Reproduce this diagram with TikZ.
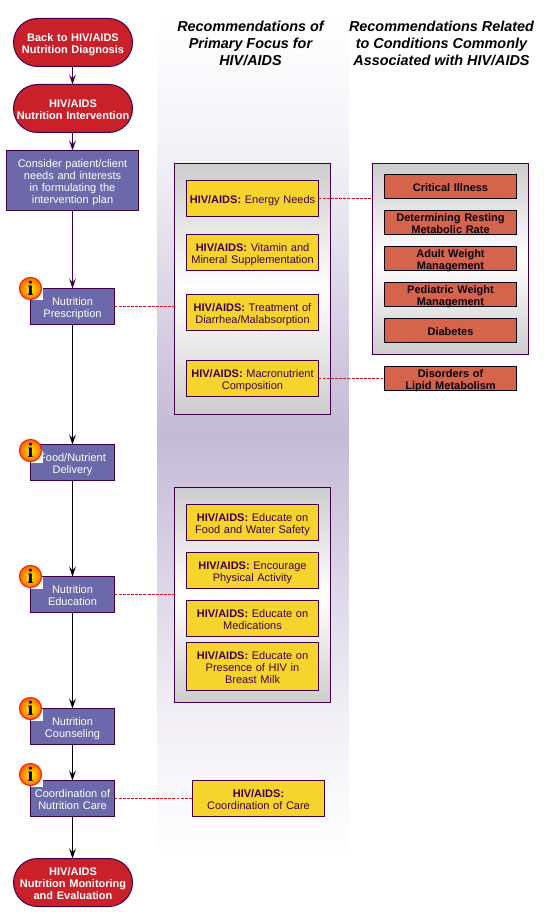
\documentclass[tikz,border=0pt]{standalone}
\usepackage{fontspec}
\setmainfont{Liberation Sans}
\newfontfamily\iconfont{Liberation Serif}
\usetikzlibrary{arrows.meta}
\definecolor{edge}{HTML}{400048}
\definecolor{redfill}{HTML}{C9202A}
\definecolor{bluefill}{HTML}{6B69A9}
\definecolor{yellowfill}{HTML}{F5D52B}
\definecolor{orangefill}{HTML}{D5644C}
\definecolor{bandtop}{HTML}{F3F2F7}
\definecolor{bandmid}{HTML}{C4BAD6}
\definecolor{bandlow}{HTML}{F2F0F6}
\definecolor{boxgray}{HTML}{CDCDCD}
\definecolor{dashred}{HTML}{D0182A}
\newcommand{\hv}{\textbf{HIV/AIDS:}}
\tikzset{
  x=0.75pt,y=-0.75pt,
  every node/.style={inner sep=0pt,outer sep=0pt,align=center,font=\fontsize{8.25pt}{9pt}\selectfont},
  base/.style={draw=edge,line width=0.75pt,text width=#1*0.75pt,inner ysep=-2.5pt,
    execute at begin node={\rule{0pt}{9.5pt}},execute at end node={\rule[-2pt]{0pt}{0pt}}},
  pill/.style={base=119,minimum width=119*0.75pt,minimum height=48*0.75pt,fill=redfill,rounded corners=18pt,text=white,font=\fontsize{8.25pt}{9pt}\selectfont\bfseries},
  bluebox/.style={base=84,minimum width=84*0.75pt,minimum height=36*0.75pt,fill=bluefill,text=white},
  yellowbox/.style={base=132,minimum width=132*0.75pt,minimum height=#1*0.75pt,fill=yellowfill,text=edge},
  yellowbox/.default=36,
  orangebox/.style={base=132,minimum width=132*0.75pt,minimum height=24*0.75pt,fill=orangefill,draw=black!80!edge,text=black!85!edge,font=\fontsize{8.25pt}{9pt}\selectfont\bfseries},
  grouper/.style={draw=edge,line width=0.75pt,minimum width=156*0.75pt,minimum height=#1*0.75pt,top color=boxgray,bottom color=boxgray,middle color=white},
  infoicon/.style={circle,minimum size=22*0.75pt,draw=red!75!orange,line width=0.9pt,inner color=yellow!85!orange,outer color=orange!85!red,text=black,font=\fontsize{15.5pt}{15.5pt}\selectfont\bfseries\iconfont},
  flow/.style={draw=#1,line width=0.75pt,-{Stealth[length=7.5pt,width=5pt,inset=3pt]}},
  flow/.default=edge,
  link/.style={draw=dashred,line width=0.6pt,dash pattern=on 2.2pt off 0.9pt},
  heading/.style={font=\fontsize{10.8pt}{12.9pt}\selectfont\bfseries\itshape,text=black}
}
\begin{document}
\begin{tikzpicture}
\useasboundingbox (-0.5,-0.5) rectangle (545.5,911.5);
% background band
\shade[top color=white,bottom color=bandtop] (157,14) rectangle (348,150);
\shade[top color=bandtop,bottom color=bandmid] (157,150) rectangle (348,432);
\shade[top color=bandmid,bottom color=bandlow] (157,432) rectangle (348,720);
\shade[top color=bandlow,bottom color=white] (157,720) rectangle (348,860);
% headings
\node[heading] (h1) at (250,43) {Recommendations of\\Primary Focus for\\HIV/AIDS};
\node[heading] (h2) at (441,43) {Recommendations Related\\to Conditions Commonly\\Associated with HIV/AIDS};
% group panels
\node[grouper=251] (g1) at (252,288.5) {};
\node[grouper=215] (g2) at (252,594.5) {};
\node[grouper=191] (g3) at (450,258.5) {};
% left column
\node[pill] (back) at (72.5,42) {Back to HIV/AIDS\\Nutrition Diagnosis};
\node[pill] (interv) at (72.5,108) {HIV/AIDS\\Nutrition Intervention};
\node[base=132,minimum width=132*0.75pt,minimum height=60*0.75pt,fill=bluefill,text=white] (consider) at (72,180) {Consider patient/client\\needs and interests\\in formulating the\\intervention plan};
\node[bluebox] (presc) at (72,306) {Nutrition\\Prescription};
\node[bluebox] (food) at (72,462) {Food/Nutrient\\Delivery};
\node[bluebox] (educ) at (72,594) {Nutrition\\Education};
\node[bluebox] (couns) at (72,726) {Nutrition\\Counseling};
\node[bluebox] (coord) at (72,798) {Coordination of\\Nutrition Care};
\node[pill] (monit) at (72.5,882) {HIV/AIDS\\Nutrition Monitoring\\and Evaluation};
% yellow boxes
\node[yellowbox] (energy) at (252,198) {\hv{} Energy Needs};
\node[yellowbox] (vit) at (252,252) {\hv{} Vitamin and\\Mineral Supplementation};
\node[yellowbox] (diar) at (252,312) {\hv{} Treatment of\\Diarrhea/Malabsorption};
\node[yellowbox] (macro) at (252,378) {\hv{} Macronutrient\\Composition};
\node[yellowbox] (safety) at (252,522) {\hv{} Educate on\\Food and Water Safety};
\node[yellowbox] (phys) at (252,570) {\hv{} Encourage\\Physical Activity};
\node[yellowbox] (meds) at (252,618) {\hv{} Educate on\\Medications};
\node[yellowbox=48] (milk) at (252,666) {\hv{} Educate on\\Presence of HIV in\\Breast Milk};
\node[yellowbox] (care) at (258,798) {\hv{}\\Coordination of Care};
% orange boxes
\node[orangebox] (crit) at (450,186) {Critical Illness};
\node[orangebox] (rest) at (450,222) {Determining Resting\\Metabolic Rate};
\node[orangebox] (adult) at (450,258) {Adult Weight\\Management};
\node[orangebox] (ped) at (450,294) {Pediatric Weight\\Management};
\node[orangebox] (diab) at (450,330) {Diabetes};
\node[orangebox] (lipid) at (450,378) {Disorders of\\Lipid Metabolism};
% flow connectors
\draw[flow] (back.south -| consider) -- (interv.north -| consider);
\draw[flow] (interv.south -| consider) -- (consider);
\draw[flow] (consider) -- (presc);
\draw[flow=black] (presc) -- (food);
\draw[flow=black] (food) -- (educ);
\draw[flow=black] (educ) -- (couns);
\draw[flow=black] (couns) -- (coord);
\draw[flow=black] (coord) -- (monit.north -| coord);
% dashed links
\draw[link] (presc.east) -- (presc.east -| g1.west);
\draw[link] (educ.east) -- (educ.east -| g2.west);
\draw[link] (coord.east) -- (care.west);
\draw[link] (energy.east) -- (energy.east -| g3.west);
\draw[link] (macro.east) -- (lipid.west);
% info icons
\foreach \n/\yy in {ia/288,ib/450,ic/576,id/708,ie/774}{
  \fill[white] (30,\yy) rectangle (42,\yy+12);
  \node[infoicon] (\n) at (30,\yy) {i};
}
\end{tikzpicture}
\end{document}
